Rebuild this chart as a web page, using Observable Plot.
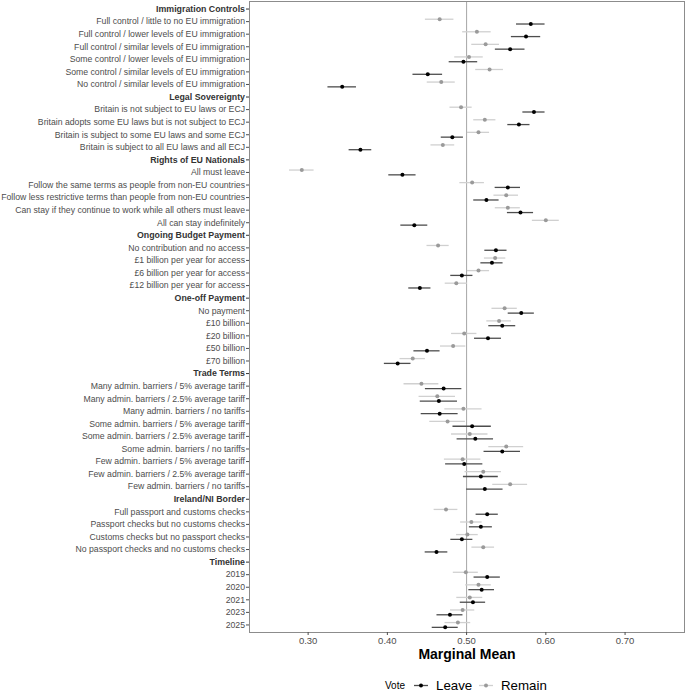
<!DOCTYPE html>
<html>
<head>
<meta charset="utf-8">
<script src="https://cdn.jsdelivr.net/npm/d3@7"></script>
<script src="https://cdn.jsdelivr.net/npm/@observablehq/plot@0.6"></script>
<style>
  html, body { margin: 0; padding: 0; background: #fff; }
  #chart { width: 685px; height: 692px; position: relative; font-family: "Liberation Sans", Arial, sans-serif; }
  #chart svg { display: block; }
</style>
</head>
<body>
<div id="chart"></div>
<script>
// Row labels (attribute headers and levels), top to bottom
const rowLabels = [
  "Immigration Controls",
  "Full control / little to no EU immigration",
  "Full control / lower levels of EU immigration",
  "Full control / similar levels of EU immigration",
  "Some control / lower levels of EU immigration",
  "Some control / similar levels of EU immigration",
  "No control / similar levels of EU immigration",
  "Legal Sovereignty",
  "Britain is not subject to EU laws or ECJ",
  "Britain adopts some EU laws but is not subject to ECJ",
  "Britain is subject to some EU laws and some ECJ",
  "Britain is subject to all EU laws and all ECJ",
  "Rights of EU Nationals",
  "All must leave",
  "Follow the same terms as people from non-EU countries",
  "Follow less restrictive terms than people from non-EU countries",
  "Can stay if they continue to work while all others must leave",
  "All can stay indefinitely",
  "Ongoing Budget Payment",
  "No contribution and no access",
  "£1 billion per year for access",
  "£6 billion per year for access",
  "£12 billion per year for access",
  "One-off Payment",
  "No payment",
  "£10 billion",
  "£20 billion",
  "£50 billion",
  "£70 billion",
  "Trade Terms",
  "Many admin. barriers / 5% average tariff",
  "Many admin. barriers / 2.5% average tariff",
  "Many admin. barriers / no tariffs",
  "Some admin. barriers / 5% average tariff",
  "Some admin. barriers / 2.5% average tariff",
  "Some admin. barriers / no tariffs",
  "Few admin. barriers / 5% average tariff",
  "Few admin. barriers / 2.5% average tariff",
  "Few admin. barriers / no tariffs",
  "Ireland/NI Border",
  "Full passport and customs checks",
  "Passport checks but no customs checks",
  "Customs checks but no passport checks",
  "No passport checks and no customs checks",
  "Timeline",
  "2019",
  "2020",
  "2021",
  "2023",
  "2025"
];

const headerLabels = [
  "Immigration Controls", "Legal Sovereignty", "Rights of EU Nationals",
  "Ongoing Budget Payment", "One-off Payment", "Trade Terms",
  "Ireland/NI Border", "Timeline"
];

// Marginal means (null for header rows)
const leaveMean = [
  null, 0.581, 0.575, 0.555, 0.496, 0.451, 0.343,
  null, 0.585, 0.566, 0.482, 0.366,
  null, 0.419, 0.552, 0.525, 0.568, 0.434,
  null, 0.537, 0.532, 0.494, 0.441,
  null, 0.569, 0.545, 0.527, 0.450, 0.413,
  null, 0.471, 0.465, 0.466, 0.507, 0.511, 0.545, 0.497, 0.518, 0.523,
  null, 0.526, 0.518, 0.494, 0.462,
  null, 0.526, 0.519, 0.508, 0.479, 0.473
];
const leaveCI = [
  null, 0.018, 0.0185, 0.0187, 0.018, 0.0187, 0.018,
  null, 0.014, 0.014, 0.014, 0.0143,
  null, 0.0172, 0.016, 0.016, 0.0165, 0.017,
  null, 0.014, 0.014, 0.014, 0.014,
  null, 0.0165, 0.017, 0.017, 0.0165, 0.0168,
  null, 0.023, 0.0235, 0.0233, 0.0242, 0.023, 0.023, 0.0235, 0.022, 0.023,
  null, 0.014, 0.0145, 0.0139, 0.0143,
  null, 0.0166, 0.0162, 0.016, 0.0164, 0.0164
];
const remainMean = [
  null, 0.466, 0.513, 0.524, 0.503, 0.529, 0.468,
  null, 0.493, 0.523, 0.515, 0.470,
  null, 0.292, 0.507, 0.550, 0.552, 0.600,
  null, 0.464, 0.536, 0.515, 0.487,
  null, 0.548, 0.541, 0.497, 0.483, 0.432,
  null, 0.443, 0.463, 0.496, 0.476, 0.504, 0.550, 0.495, 0.521, 0.555,
  null, 0.474, 0.506, 0.501, 0.521,
  null, 0.499, 0.515, 0.504, 0.495, 0.489
];
const remainCI = [
  null, 0.018, 0.018, 0.0175, 0.018, 0.0175, 0.0177,
  null, 0.014, 0.014, 0.014, 0.015,
  null, 0.0155, 0.0155, 0.0155, 0.0158, 0.017,
  null, 0.014, 0.0135, 0.014, 0.014,
  null, 0.016, 0.0155, 0.016, 0.016, 0.016,
  null, 0.022, 0.023, 0.0235, 0.0225, 0.023, 0.022, 0.023, 0.023, 0.022,
  null, 0.015, 0.0136, 0.0137, 0.0143,
  null, 0.0158, 0.0162, 0.0164, 0.0153, 0.0162
];

const xTicks = [0.3, 0.4, 0.5, 0.6, 0.7];
const votes = ["Leave", "Remain"];

const data = rowLabels.flatMap((label, i) => {
  if (leaveMean[i] == null) return [];
  return [
    {label, vote: "Remain", mean: remainMean[i], lo: remainMean[i] - remainCI[i], hi: remainMean[i] + remainCI[i]},
    {label, vote: "Leave", mean: leaveMean[i], lo: leaveMean[i] - leaveCI[i], hi: leaveMean[i] + leaveCI[i]}
  ];
});
const remain = data.filter(d => d.vote === "Remain");
const leave = data.filter(d => d.vote === "Leave");
const levelLabels = rowLabels.filter(l => !headerLabels.includes(l));

const plot = Plot.plot({
  width: 685,
  height: 668,
  marginLeft: 249,
  marginRight: 1,
  marginTop: 1,
  marginBottom: 36,
  style: {fontFamily: "'Liberation Sans', Arial, sans-serif", fontSize: "9px", color: "#4d4d4d", background: "#fff", overflow: "visible"},
  x: {domain: [0.226, 0.775], label: null},
  y: {type: "point", domain: rowLabels, padding: 0.6, round: false, label: null},
  marks: [
    Plot.ruleX([0.5], {stroke: "#a6a6a6", strokeWidth: 1}),
    Plot.ruleY(remain, {y: "label", x1: "lo", x2: "hi", dy: -2.4, stroke: "#d0d0d0", strokeWidth: 1.3}),
    Plot.dot(remain, {x: "mean", y: "label", dy: -2.4, r: 2, fill: "#9a9a9a", stroke: "none"}),
    Plot.ruleY(leave, {y: "label", x1: "lo", x2: "hi", dy: 2.4, stroke: "#4d4d4d", strokeWidth: 1.3}),
    Plot.dot(leave, {x: "mean", y: "label", dy: 2.4, r: 2, fill: "#000", stroke: "none"}),
    Plot.frame({stroke: "#8c8c8c"}),
    Plot.axisY({ticks: levelLabels, tickSize: 3, tickPadding: 1.5, fontSize: 8.7, label: null, color: "#4d4d4d"}),
    Plot.axisY({ticks: headerLabels, tickSize: 3, tickPadding: 1.5, fontSize: 8.8, fontWeight: "bold", label: null, color: "#333"}),
    Plot.axisX({ticks: xTicks, tickSize: 3, tickPadding: 2, fontSize: 9.5, label: null, color: "#4d4d4d"}),
    Plot.text(["Marginal Mean"], {frameAnchor: "bottom", dy: 26, fontSize: 14, fontWeight: "bold", fill: "#000"})
  ]
});
document.getElementById("chart").appendChild(plot);

// Legend below the plot
const leg = d3.select("#chart").append("svg").attr("width", 685).attr("height", 24)
  .style("font-family", "'Liberation Sans', Arial, sans-serif");
leg.append("text").attr("x", 385).attr("y", 21).attr("font-size", 10).attr("fill", "#000").text("Vote");
const keys = [
  {vote: votes[0], x0: 414, tx: 436, line: "#4d4d4d", dot: "#000"},
  {vote: votes[1], x0: 479, tx: 501, line: "#d0d0d0", dot: "#9a9a9a"}
];
keys.forEach(k => {
  leg.append("line").attr("x1", k.x0).attr("x2", k.x0 + 14).attr("y1", 17.5).attr("y2", 17.5)
    .attr("stroke", k.line).attr("stroke-width", 1.3);
  leg.append("circle").attr("cx", k.x0 + 7).attr("cy", 17.5).attr("r", 2).attr("fill", k.dot);
  leg.append("text").attr("x", k.tx).attr("y", 22).attr("font-size", 13.3).attr("fill", "#000").text(k.vote);
});
</script>
</body>
</html>
